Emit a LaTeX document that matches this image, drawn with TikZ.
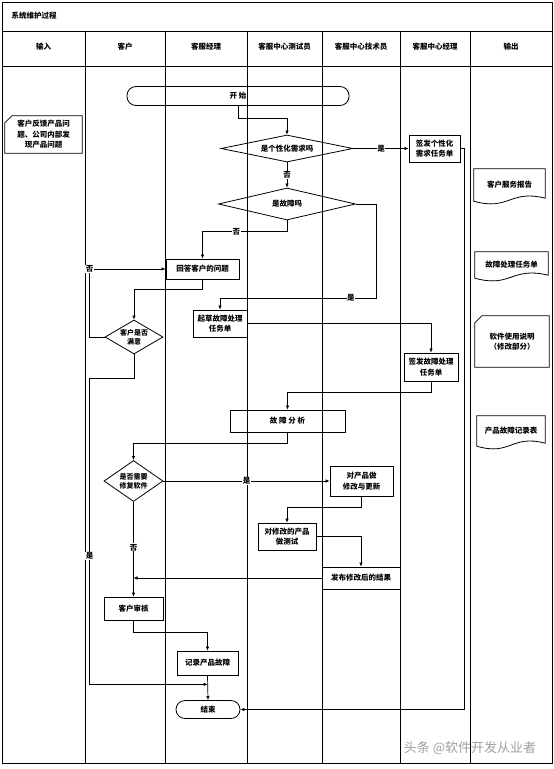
\documentclass[tikz,border=0pt]{standalone}
\usepackage{fontspec}
\newfontfamily\cjk{Noto Sans CJK SC}
\usepackage{tikz}
\usetikzlibrary{shapes.geometric, arrows.meta, calc}
\tikzset{
	>={Latex[length=4pt,width=3.5pt]}, % punta de flecha pequena
	every node/.style={font=\cjk\bfseries\fontsize{7.5}{10.5}\selectfont}, % texto de los nodos
	box/.style={draw, line width=0.8pt, align=center, inner sep=1pt}, % pasos
	decision/.style={draw, diamond, line width=0.8pt, align=center, inner sep=0pt}, % preguntas
	terminal/.style={draw, rounded corners=9pt, line width=0.8pt}, % inicio y fin
	docbox/.style={align=center, inner sep=1pt}, % documentos
	docline/.style={line width=0.8pt}, % borde de documentos
	flow/.style={->, line width=0.7pt}, % conectores
	lbl/.style={fill=white, inner sep=0.6pt}, % etiquetas si / no
	lane/.style={line width=1pt}, % carriles
	wmark/.style={font=\cjk\fontsize{13}{13}\selectfont, text=gray!75} % marca de agua
}

\begin{document}
\begin{tikzpicture}[x=1pt, y=-1pt]
	\useasboundingbox (0,0) rectangle (554,769);
	% marco y carriles
	\draw[lane] (2,2) rectangle (552,763);
	\draw[lane] (2,31) -- (552,31) (2,66) -- (552,66)
		(85,31) -- (85,763) (165,31) -- (165,763) (247,31) -- (247,763)
		(322,31) -- (322,763) (400,31) -- (400,763) (470,31) -- (470,763);
	\node[anchor=west] (title) at (8,16) {系统维护过程};
	\node (hin) at (43.5,47) {输入};
	\node (hcus) at (125,47) {客户};
	\node (hmgr) at (206,47) {客服经理};
	\node (htest) at (284.5,47) {客服中心测试员};
	\node (htech) at (361,47) {客服中心技术员};
	\node (hcmgr) at (435,47) {客服中心经理};
	\node (hout) at (511,47) {输出};

	% pasos
	\node[docbox, minimum width=77pt, minimum height=37pt] (inp) at (43.5,134.5) {客户反馈产品问\\题、公司内部发\\现产品问题};
	\node[terminal, minimum width=222pt, minimum height=19pt] (start) at (238,96) {开 始};
	\node[decision, aspect=4.9, minimum width=132pt, minimum height=27pt] (d1) at (287,148.5) {是个性化需求吗};
	\node[box, minimum width=51pt, minimum height=27pt] (pers) at (434.5,148.5) {签发个性化\\需求任务单};
	\node[decision, aspect=4.3, minimum width=137pt, minimum height=32pt] (d2) at (287,204) {是故障吗};
	\node[box, minimum width=73pt, minimum height=20pt] (ans) at (202.5,269) {回答客户的问题};
	\node[box, minimum width=54pt, minimum height=27pt] (draft) at (220,323.5) {起草故障处理\\任务单};
	\node[decision, aspect=1.7, minimum width=58pt, minimum height=34pt, font=\cjk\bfseries\fontsize{7}{9}\selectfont] (d3) at (134,337) {客户是否\\满意};
	\node[box, minimum width=54pt, minimum height=28pt] (issue) at (431,367) {签发故障处理\\任务单};
	\node[box, minimum width=115pt, minimum height=22pt] (anal) at (287.5,421) {故 障 分 析};
	\node[decision, aspect=1.44, minimum width=59pt, minimum height=41pt, font=\cjk\bfseries\fontsize{7}{9}\selectfont] (d4) at (133.5,481) {是否需要\\修复软件};
	\node[box, minimum width=63pt, minimum height=30pt] (fix) at (361.5,481) {对产品做\\修改与更新};
	\node[box, minimum width=58pt, minimum height=27pt] (test) at (287,536.5) {对修改的产品\\做测试};
	\node[box, minimum width=78pt, minimum height=22pt] (pub) at (361,578) {发布修改后的结果};
	\node[box, minimum width=59pt, minimum height=23pt] (rev) at (133.5,608.5) {客户审核};
	\node[box, minimum width=61pt, minimum height=24pt] (rec) at (207.5,663) {记录产品故障};
	\node[terminal, minimum width=64pt, minimum height=18pt] (stop) at (208,709.5) {结束};

	% documentos de salida
	\node[docbox, minimum width=71pt, minimum height=32pt] (rpt) at (509.5,185) {客户服务报告};
	\node[docbox, minimum width=73pt, minimum height=26pt] (ftask) at (511.5,265) {故障处理任务单};
	\node[docbox, minimum width=74pt, minimum height=51pt] (man) at (512,341.5) {软件使用说明\\（修改部分）};
	\node[docbox, minimum width=68pt, minimum height=30pt] (frec) at (511,431) {产品故障记录表};
	\draw[docline] ($(inp.north west)+(7,0)$) -- (inp.north east) -- (inp.south east) -- (inp.south west) -- ($(inp.north west)+(0,7)$) -- cycle;
	\draw[docline] ($(man.north west)+(7,0)$) -- (man.north east) -- (man.south east) -- (man.south west) -- ($(man.north west)+(0,7)$) -- cycle;
	\draw[docline] (rpt.north west) -- (rpt.north east) -- ($(rpt.south east)+(0,-3)$) .. controls ($(rpt.south)+(0,-12)$) and ($(rpt.south)+(0,10)$) .. (rpt.south west) -- cycle;
	\draw[docline] (ftask.north west) -- (ftask.north east) -- ($(ftask.south east)+(0,-3)$) .. controls ($(ftask.south)+(0,-12)$) and ($(ftask.south)+(0,10)$) .. (ftask.south west) -- cycle;
	\draw[docline] (frec.north west) -- (frec.north east) -- ($(frec.south east)+(0,-3)$) .. controls ($(frec.south)+(0,-12)$) and ($(frec.south)+(0,10)$) .. (frec.south west) -- cycle;

	% conectores
	\coordinate (m1) at ($(rec.south)!0.36!(stop.north)$);
	\coordinate (m2) at (d4.south |- pub.west);
	\draw[flow] (start.south) -- ++(0,12) -| (d1.north);
	\draw[flow] (d1.east) -- node[lbl]{是} (pers.west);
	\draw[flow] (d1.south) -- node[lbl]{否} (d2.north);
	\draw[flow] (d2.south) -- ++(0,11) -| node[lbl, pos=0.3]{否} (ans.north);
	\draw[flow] (d2.east) -| ++(20,94) -| node[lbl, pos=0.08]{是} (draft.north);
	\draw[flow] (ans.south) -- ++(0,10) -| (d3.north);
	\draw[flow] (d3.west) -- ++(-15,0) |- node[lbl, pos=0.5]{否} (ans.west);
	\draw[flow] (d3.south) -- ++(0,24) -| node[lbl, pos=0.79]{是} ($(m1)+(-118,0)$) -- (m1);
	\draw[flow] (draft.east) -| (issue.north);
	\draw[flow] (issue.south) -- ++(0,11) -| (anal.north);
	\draw[flow] (anal.south) -- ++(0,11) -| (d4.north);
	\draw[flow] (d4.east) -- node[lbl]{是} (fix.west);
	\draw[flow] (d4.south) -- node[lbl, pos=0.48]{否} (rev.north);
	\draw[flow] (fix.south) -- ++(0,11) -| (test.north);
	\draw[flow] (test.east) -| (pub.north);
	\draw[flow] (pub.west) -- (m2);
	\draw[flow] (rev.south) -- ++(0,12) -| (rec.north);
	\draw[flow] (rec.south) -- (stop.north);
	\draw[flow] (pers.east) -- ++(4,0) |- (stop.east);

	\node[wmark] (wm) at (470,748) {头条 @软件开发从业者};
\end{tikzpicture}
\end{document}
